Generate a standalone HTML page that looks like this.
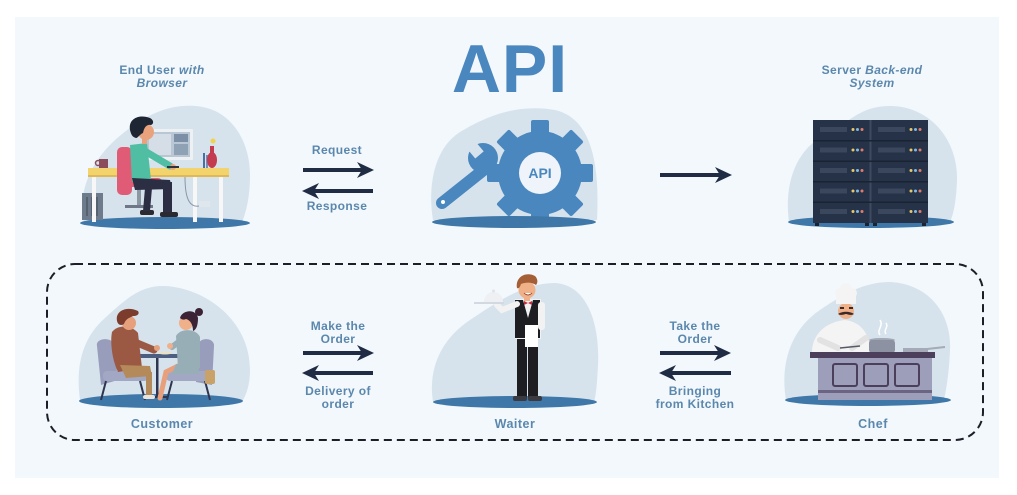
<!DOCTYPE html>
<html>
<head>
<meta charset="utf-8">
<style>
  html,body{margin:0;padding:0;background:#ffffff;}
  svg{display:block;}
  .lbl{font-family:"Liberation Sans",sans-serif;font-weight:bold;font-size:12px;fill:#5b87ad;text-anchor:middle;letter-spacing:0.4px;}
  .lbl2{font-family:"Liberation Sans",sans-serif;font-weight:bold;font-size:12.5px;fill:#5b87ad;text-anchor:middle;letter-spacing:0.5px;}
</style>
</head>
<body>
<svg width="1017" height="495" viewBox="0 0 1017 495" xmlns="http://www.w3.org/2000/svg">
  <rect x="0" y="0" width="1017" height="495" fill="#ffffff"/>
  <rect x="15" y="17" width="984" height="461" fill="#f2f8fc"/>

  <!-- Title -->
  <text x="510" y="92" font-family="Liberation Sans, sans-serif" font-weight="bold" font-size="68" fill="#4b87bf" text-anchor="middle" letter-spacing="1">API</text>

  <!-- Top labels -->
  <text class="lbl" x="162" y="74">End User <tspan font-style="italic">with</tspan></text>
  <text class="lbl" x="162" y="87" font-style="italic">Browser</text>
  <text class="lbl" x="872" y="74">Server <tspan font-style="italic">Back-end</tspan></text>
  <text class="lbl" x="872" y="87" font-style="italic">System</text>

  <text class="lbl" x="337" y="154">Request</text>
  <text class="lbl" x="337" y="210">Response</text>

  <g fill="#1f2c44">
    <rect x="303" y="168" width="60" height="4"/>
    <polygon points="374,170 357,162 362,170 357,178"/>
    <rect x="313" y="189" width="60" height="4"/>
    <polygon points="302,191 319,183 314,191 319,199"/>
    <rect x="660" y="173" width="60" height="4"/>
    <polygon points="732,175 715,167 720,175 715,183"/>
    <rect x="303" y="351" width="60" height="4"/>
    <polygon points="374,353 357,345 362,353 357,361"/>
    <rect x="313" y="371" width="60" height="4"/>
    <polygon points="302,373 319,365 314,373 319,381"/>
    <rect x="660" y="351" width="60" height="4"/>
    <polygon points="731,353 714,345 719,353 714,361"/>
    <rect x="670" y="371" width="61" height="4"/>
    <polygon points="659,373 676,365 671,373 676,381"/>
  </g>

  <!-- ============ END USER ============ -->
  <path d="M84,222 C78,195 88,165 115,140 C140,118 165,104 195,106 C230,108 250,140 250,175 C250,200 245,215 242,222 Z" fill="#d6e3ec"/>
  <ellipse cx="165" cy="223" rx="85" ry="6" fill="#3f78a8"/>
  <rect x="82" y="193" width="21" height="27" fill="#6d7b8d"/>
  <rect x="86" y="197" width="2" height="19" fill="#56636f"/>
  <rect x="91" y="197" width="2" height="19" fill="#56636f"/>
  <rect x="96" y="197" width="2" height="19" fill="#56636f"/>
  <rect x="144" y="129" width="49" height="31" rx="1" fill="#eef1f4"/>
  <rect x="147" y="132" width="43" height="25" fill="#b9c6d3"/>
  <rect x="149" y="134" width="22" height="21" fill="#d5dde6"/>
  <rect x="174" y="134" width="14" height="8" fill="#7c8fa6"/>
  <rect x="174" y="144" width="14" height="11" fill="#8fa1b5"/>
  <rect x="165" y="160" width="6" height="9" fill="#dfe4ea"/>
  <rect x="88" y="168" width="141" height="8" fill="#f3d36b"/>
  <rect x="88" y="175" width="141" height="2" fill="#e0b955"/>
  <rect x="92" y="177" width="4" height="45" fill="#f7f7f7"/>
  <rect x="193" y="177" width="4" height="45" fill="#f7f7f7"/>
  <rect x="219" y="177" width="4" height="45" fill="#f7f7f7"/>
  <rect x="99" y="159" width="9" height="9" fill="#8b4d5c"/>
  <circle cx="98" cy="163" r="2.5" fill="none" stroke="#8b4d5c" stroke-width="1.5"/>
  <rect x="203" y="153" width="2" height="15" fill="#4a6fa5"/>
  <rect x="206" y="155" width="2" height="13" fill="#6f8fb8"/>
  <ellipse cx="212" cy="160" rx="5" ry="8" fill="#c43a4f"/>
  <rect x="210" y="146" width="4" height="8" fill="#c43a4f"/>
  <circle cx="213" cy="141" r="2.5" fill="#f2d24b"/>
  <path d="M185,177 C185,200 190,210 203,205" fill="none" stroke="#8a96a8" stroke-width="1"/>
  <rect x="199" y="201" width="11" height="6" fill="#dfe6ec"/>
  <rect x="117" y="147" width="15" height="48" rx="5" fill="#e05c76"/>
  <rect x="117" y="178" width="45" height="9" rx="4" fill="#e05c76"/>
  <rect x="137" y="187" width="4" height="20" fill="#8d96a3"/>
  <rect x="125" y="205" width="28" height="3" fill="#6e7886"/>
  <path d="M130,145 L147,143 L151,180 L132,182 Z" fill="#4fbea3"/>
  <line x1="143" y1="150" x2="170" y2="166" stroke="#4fbea3" stroke-width="7" stroke-linecap="round"/>
  <circle cx="173" cy="167" r="3" fill="#e9a27c"/>
  <rect x="167" y="166" width="12" height="2" fill="#2c3240"/>
  <rect x="142" y="138" width="5" height="6" fill="#e9a27c"/>
  <circle cx="146" cy="132" r="8" fill="#e9a27c"/>
  <path d="M130,130 C128,118 140,114 150,118 C154,120 154,124 151,125 C146,124 144,128 143,133 C140,134 138,138 136,138 C132,137 131,134 130,130 Z" fill="#1e2533"/>
  <path d="M132,178 L170,180 L172,189 L135,190 Z" fill="#2c2e44"/>
  <rect x="163" y="182" width="9" height="32" fill="#2c2e44"/>
  <rect x="160" y="212" width="18" height="5" rx="2" fill="#2a2a30"/>
  <rect x="140" y="210" width="14" height="5" rx="2" fill="#2a2a30"/>
  <path d="M145,188 L152,188 L150,211 L143,211 Z" fill="#2c2e44"/>

  <!-- ============ API GEAR ============ -->
  <path d="M433,220 C428,190 432,150 460,132 C490,114 520,104 555,110 C590,118 600,160 597,220 Z" fill="#d6e3ec"/>
  <line x1="442" y1="203" x2="486" y2="168" stroke="#4a87bf" stroke-width="12" stroke-linecap="round"/>
  <circle cx="483" cy="158" r="15" fill="#4a87bf"/>
  <rect x="470" y="136" width="11" height="20" fill="#d6e3ec" transform="rotate(-40 476 150)"/>
  <circle cx="443" cy="202" r="2" fill="#ffffff"/>
  <g transform="translate(540 173)" fill="#4a87bf">
    <circle r="42"/>
    <rect x="-9" y="-53" width="18" height="20" rx="2"/>
    <rect x="-9" y="-53" width="18" height="20" rx="2" transform="rotate(45)"/>
    <rect x="-9" y="-53" width="18" height="20" rx="2" transform="rotate(90)"/>
    <rect x="-9" y="-53" width="18" height="20" rx="2" transform="rotate(135)"/>
    <rect x="-9" y="-53" width="18" height="20" rx="2" transform="rotate(180)"/>
    <rect x="-9" y="-53" width="18" height="20" rx="2" transform="rotate(225)"/>
    <rect x="-9" y="-53" width="18" height="20" rx="2" transform="rotate(270)"/>
    <rect x="-9" y="-53" width="18" height="20" rx="2" transform="rotate(315)"/>
    <circle r="21" fill="#eef4f9"/>
  </g>
  <text x="540" y="178" font-family="Liberation Sans, sans-serif" font-weight="bold" font-size="14" fill="#4a87bf" text-anchor="middle">API</text>
  <ellipse cx="514" cy="222" rx="82" ry="6" fill="#3f78a8"/>

  <!-- ============ SERVER ============ -->
  <path d="M789,222 C784,185 795,150 825,135 C850,122 860,106 890,106 C930,106 958,140 957,180 C956,205 953,215 950,222 Z" fill="#d6e3ec"/>
  <ellipse cx="871" cy="222" rx="83" ry="6" fill="#3f78a8"/>
  <rect x="813" y="120" width="115" height="103" fill="#263247"/>
  <rect x="869.5" y="120" width="2" height="103" fill="#3d4a60"/>
  <g fill="#1a2333">
    <rect x="813" y="140" width="115" height="1.5"/>
    <rect x="813" y="160.5" width="115" height="1.5"/>
    <rect x="813" y="181" width="115" height="1.5"/>
    <rect x="813" y="201.5" width="115" height="1.5"/>
  </g>
  <g fill="#3a475d">
    <rect x="820" y="127" width="27" height="5"/>
    <rect x="820" y="147.5" width="27" height="5"/>
    <rect x="820" y="168" width="27" height="5"/>
    <rect x="820" y="188.5" width="27" height="5"/>
    <rect x="820" y="209" width="27" height="5"/>
    <rect x="878" y="127" width="27" height="5"/>
    <rect x="878" y="147.5" width="27" height="5"/>
    <rect x="878" y="168" width="27" height="5"/>
    <rect x="878" y="188.5" width="27" height="5"/>
    <rect x="878" y="209" width="27" height="5"/>
  </g>
  <g fill="#e6c86a">
    <circle cx="853" cy="129.5" r="1.5"/><circle cx="853" cy="150" r="1.5"/><circle cx="853" cy="170.5" r="1.5"/><circle cx="853" cy="191" r="1.5"/><circle cx="853" cy="211.5" r="1.5"/>
    <circle cx="911" cy="129.5" r="1.5"/><circle cx="911" cy="150" r="1.5"/><circle cx="911" cy="170.5" r="1.5"/><circle cx="911" cy="191" r="1.5"/><circle cx="911" cy="211.5" r="1.5"/>
  </g>
  <g fill="#7fb8e0">
    <circle cx="857.5" cy="129.5" r="1.5"/><circle cx="857.5" cy="150" r="1.5"/><circle cx="857.5" cy="170.5" r="1.5"/><circle cx="857.5" cy="191" r="1.5"/><circle cx="857.5" cy="211.5" r="1.5"/>
    <circle cx="915.5" cy="129.5" r="1.5"/><circle cx="915.5" cy="150" r="1.5"/><circle cx="915.5" cy="170.5" r="1.5"/><circle cx="915.5" cy="191" r="1.5"/><circle cx="915.5" cy="211.5" r="1.5"/>
  </g>
  <g fill="#e07a6a">
    <circle cx="862" cy="129.5" r="1.5"/><circle cx="862" cy="150" r="1.5"/><circle cx="862" cy="170.5" r="1.5"/><circle cx="862" cy="191" r="1.5"/><circle cx="862" cy="211.5" r="1.5"/>
    <circle cx="920" cy="129.5" r="1.5"/><circle cx="920" cy="150" r="1.5"/><circle cx="920" cy="170.5" r="1.5"/><circle cx="920" cy="191" r="1.5"/><circle cx="920" cy="211.5" r="1.5"/>
  </g>
  <g fill="#1a2333">
    <rect x="815" y="223" width="4" height="3"/><rect x="865" y="223" width="4" height="3"/>
    <rect x="873" y="223" width="4" height="3"/><rect x="922" y="223" width="4" height="3"/>
  </g>

  <!-- ============ DASHED BOX ============ -->
  <rect x="47" y="264" width="936" height="176" rx="28" ry="28" fill="none" stroke="#1e1e28" stroke-width="2" stroke-dasharray="8 5"/>

  <text class="lbl" x="338" y="330">Make the</text>
  <text class="lbl" x="338" y="343">Order</text>
  <text class="lbl" x="338" y="395">Delivery of</text>
  <text class="lbl" x="338" y="408">order</text>
  <text class="lbl" x="695" y="330">Take the</text>
  <text class="lbl" x="695" y="343">Order</text>
  <text class="lbl" x="695" y="395">Bringing</text>
  <text class="lbl" x="695" y="408">from Kitchen</text>
  <text class="lbl2" x="162" y="428">Customer</text>
  <text class="lbl2" x="515" y="428">Waiter</text>
  <text class="lbl2" x="873" y="428">Chef</text>

  <!-- ============ CUSTOMER ============ -->
  <path d="M80,400 C76,370 80,340 105,318 C125,300 140,285 165,286 C205,288 250,320 250,370 C250,385 246,395 243,400 Z" fill="#d6e3ec"/>
  <ellipse cx="161" cy="401" rx="82" ry="7" fill="#3f78a8"/>
  <path d="M97,346 C95,338 112,336 114,345 L118,380 L101,385 Z" fill="#989dbb"/>
  <rect x="103" y="371" width="45" height="10" rx="4" fill="#a2a7c4"/>
  <line x1="106" y1="381" x2="101" y2="400" stroke="#2e3550" stroke-width="2"/>
  <line x1="140" y1="381" x2="145" y2="400" stroke="#2e3550" stroke-width="2"/>
  <path d="M198,345 C200,336 215,338 214,346 L212,385 L196,382 Z" fill="#989dbb"/>
  <rect x="166" y="371" width="45" height="10" rx="4" fill="#a2a7c4"/>
  <line x1="172" y1="381" x2="167" y2="400" stroke="#2e3550" stroke-width="2"/>
  <line x1="205" y1="381" x2="210" y2="400" stroke="#2e3550" stroke-width="2"/>
  <rect x="156" y="358" width="2.5" height="40" fill="#2e3550"/>
  <rect x="147" y="396" width="20" height="2" fill="#2e3550"/>
  <rect x="133" y="354" width="50" height="4" fill="#4c5f80"/>
  <ellipse cx="165" cy="353" rx="7" ry="1.5" fill="#e9e0c8"/>
  <path d="M112,332 C118,324 132,325 138,333 L142,368 L118,372 C112,360 110,342 112,332 Z" fill="#9b5944"/>
  <path d="M120,365 L150,366 L152,376 L126,378 Z" fill="#b48a5b"/>
  <rect x="146" y="372" width="6" height="24" fill="#b48a5b"/>
  <rect x="143" y="395" width="12" height="4" rx="2" fill="#e9e4dc"/>
  <line x1="130" y1="340" x2="154" y2="350" stroke="#9b5944" stroke-width="7" stroke-linecap="round"/>
  <circle cx="157" cy="348" r="3" fill="#e6a07c"/>
  <circle cx="129" cy="323" r="7" fill="#e6a07c"/>
  <path d="M117,321 C115,310 128,306 138,311 C140,314 137,316 133,316 C130,318 126,318 124,324 C121,326 118,325 117,321 Z" fill="#7b3c2e"/>
  <path d="M176,336 C180,328 196,328 200,337 L200,368 L178,368 Z" fill="#98aeb6"/>
  <path d="M178,366 L166,372 L160,398" fill="none" stroke="#e8a07c" stroke-width="5" stroke-linecap="round"/>
  <path d="M176,364 L200,364 L198,374 L172,374 Z" fill="#98aeb6"/>
  <line x1="180" y1="341" x2="172" y2="347" stroke="#98aeb6" stroke-width="6" stroke-linecap="round"/>
  <circle cx="170" cy="346" r="3" fill="#f0b08a"/>
  <circle cx="186" cy="323" r="7" fill="#f0b08a"/>
  <path d="M180,318 C182,310 196,308 198,318 C198,326 196,330 193,331 C193,324 190,320 186,319 C184,320 182,320 180,318 Z" fill="#3b2335"/>
  <circle cx="199" cy="312" r="4" fill="#3b2335"/>
  <rect x="205" y="370" width="10" height="14" rx="2" fill="#c9a26a"/>

  <!-- ============ WAITER ============ -->
  <path d="M433,402 C428,370 440,340 470,320 C500,300 525,283 555,283 C590,285 600,330 598,365 C597,385 596,395 594,402 Z" fill="#d6e3ec"/>
  <ellipse cx="515" cy="402" rx="82" ry="6" fill="#3f78a8"/>
  <rect x="517" y="335" width="10" height="63" fill="#1e1e22"/>
  <rect x="528" y="335" width="10" height="63" fill="#1e1e22"/>
  <rect x="513" y="396" width="14" height="5" rx="2" fill="#3a3a40"/>
  <rect x="528" y="396" width="14" height="5" rx="2" fill="#3a3a40"/>
  <rect x="515" y="299" width="26" height="40" fill="#f2f2f2"/>
  <path d="M515,300 L523,300 L528,318 L533,300 L540,300 L540,338 L515,338 Z" fill="#1e1e22"/>
  <polygon points="524,301 528,303 532,301 532,305 528,303 524,305" fill="#c03040"/>
  <rect x="538" y="302" width="7" height="28" rx="3" fill="#f2f2f2"/>
  <rect x="525" y="325" width="13" height="22" fill="#ffffff"/>
  <path d="M517,304 L502,310 L497,305" fill="none" stroke="#f2f2f2" stroke-width="6" stroke-linecap="round"/>
  <rect x="474" y="302" width="30" height="2" fill="#d3d9e0"/>
  <path d="M484,302 A9.5,10 0 0 1 503,302 Z" fill="#eef0f3"/>
  <circle cx="493.5" cy="291" r="1.5" fill="#e0e4ea"/>
  <rect x="524" y="295" width="6" height="6" fill="#f0b088"/>
  <circle cx="527" cy="290" r="8.5" fill="#f0b088"/>
  <path d="M517,288 C515,277 526,271 535,276 C538,279 538,283 536,285 C532,282 526,282 521,284 C520,287 519,289 517,288 Z" fill="#a45f37"/>
  <path d="M524,293 Q528,297 532,293" fill="#ffffff" stroke="#8a3a2a" stroke-width="0.8"/>

  <!-- ============ CHEF ============ -->
  <path d="M786,400 C780,365 790,330 820,310 C845,293 865,282 890,282 C930,284 952,315 950,350 C949,375 946,390 944,400 Z" fill="#d6e3ec"/>
  <ellipse cx="868" cy="400" rx="83" ry="6" fill="#3f78a8"/>
  <path d="M812,352 C812,335 825,322 845,320 C862,322 870,335 870,352 Z" fill="#f4f4f4"/>
  <path d="M820,340 L838,348 M866,338 L852,348" stroke="#e2e2e2" stroke-width="6" stroke-linecap="round"/>
  <line x1="840" y1="348" x2="860" y2="346" stroke="#555a66" stroke-width="1.5"/>
  <circle cx="846" cy="311" r="8" fill="#f0b088"/>
  <rect x="836" y="295" width="20" height="9" fill="#f4f4f4"/>
  <circle cx="840" cy="293" r="5" fill="#f4f4f4"/>
  <circle cx="852" cy="293" r="5" fill="#f4f4f4"/>
  <circle cx="846" cy="289" r="6" fill="#f4f4f4"/>
  <path d="M838,314 C842,311 850,311 854,314 C851,316 847,314 846,314 C845,314 841,316 838,314 Z" fill="#3a2a2a"/>
  <rect x="840" y="307" width="4" height="2" fill="#3a2a2a"/>
  <rect x="849" y="307" width="4" height="2" fill="#3a2a2a"/>
  <path d="M880,335 C876,330 884,326 880,320 M886,334 C883,330 889,327 886,323" fill="none" stroke="#ffffff" stroke-width="1.5"/>
  <ellipse cx="882" cy="340" rx="13" ry="2" fill="#a3a8b6"/>
  <rect x="869" y="340" width="26" height="13" rx="3" fill="#8d92a3"/>
  <rect x="903" y="348" width="25" height="4" fill="#a5aab8"/>
  <line x1="927" y1="349" x2="945" y2="347" stroke="#a5aab8" stroke-width="2"/>
  <rect x="810" y="352" width="125" height="6" fill="#4b3f5c"/>
  <rect x="818" y="358" width="114" height="42" fill="#9c9eba"/>
  <rect x="833" y="364" width="24" height="22" rx="2" fill="none" stroke="#4b3f5c" stroke-width="2"/>
  <rect x="864" y="364" width="24" height="22" rx="2" fill="none" stroke="#4b3f5c" stroke-width="2"/>
  <rect x="895" y="364" width="24" height="22" rx="2" fill="none" stroke="#4b3f5c" stroke-width="2"/>
  <rect x="818" y="390" width="114" height="3" fill="#6b6482"/>
</svg>
</body>
</html>
